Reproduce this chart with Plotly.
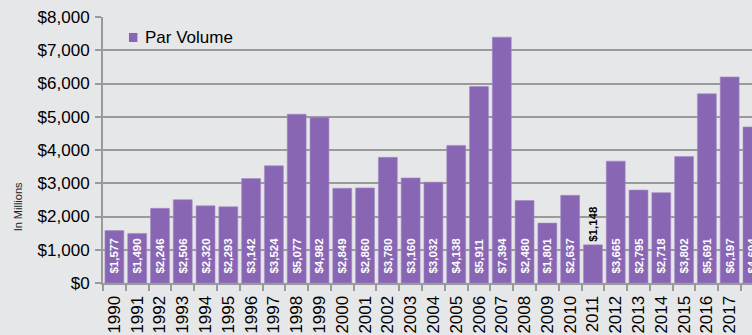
import plotly.graph_objects as go

years = [str(y) for y in range(1990, 2019)]
par_volume = [1577, 1490, 2246, 2506, 2320, 2293, 3142, 3524, 5077, 4982,
              2849, 2860, 3780, 3160, 3032, 4138, 5911, 7394, 2480, 1801,
              2637, 1148, 3665, 2795, 2718, 3802, 5691, 6197, 4694]
y_ticks = [0, 1000, 2000, 3000, 4000, 5000, 6000, 7000, 8000]
y_tick_labels = ["${:,}".format(v) for v in y_ticks]

positions = ["outside" if v < 1300 else "inside" for v in par_volume]
labels = [("${:,}".format(v) if p == "outside" else "\u00a0\u00a0${:,}".format(v))
          for v, p in zip(par_volume, positions)]

BG = "#E6E7E9"
PURPLE = "#8866B4"
GRID = "#9A9A9A"

fig = go.Figure()
fig.add_trace(go.Bar(
    x=years, y=par_volume, name="Par Volume",
    marker=dict(color=PURPLE, line=dict(color="#A48BC6", width=0.6)),
    text=labels, textposition=positions, textangle=-90,
    insidetextanchor="start", constraintext="none",
    insidetextfont=dict(color="white", size=11.5, family="Liberation Sans", weight="bold"),
    outsidetextfont=dict(color="black", size=11.5, family="Liberation Sans", weight="bold"),
    cliponaxis=True, showlegend=False,
))

fig.update_layout(
    width=752, height=335,
    margin=dict(l=103, r=0, t=17, b=52, autoexpand=False),
    paper_bgcolor=BG, plot_bgcolor=BG,
    bargap=0.17,
    font=dict(family="Liberation Sans", color="black"),
    showlegend=False,
    xaxis=dict(type="category", range=[-0.5, 27.98], tickson="boundaries",
               ticks="outside", ticklen=6, tickcolor=GRID, tickwidth=1.5,
               showline=True, linecolor=GRID, linewidth=2,
               tickangle=-90, tickfont=dict(size=17), showgrid=False,
               ticklabelstandoff=4,
               automargin=False, fixedrange=True),
    yaxis=dict(range=[0, 8000], tickvals=y_ticks, ticktext=y_tick_labels,
               ticks="outside", ticklen=6, tickcolor=GRID, tickwidth=2,
               showline=True, linecolor=GRID, linewidth=2,
               showgrid=True, gridcolor=GRID, gridwidth=2,
               ticklabelstandoff=2,
               tickfont=dict(size=17), automargin=False, zeroline=False),
    shapes=[dict(type="rect", xref="paper", yref="paper",
                 x0=0.04, x1=0.053, y0=0.906, y1=0.94,
                 fillcolor=PURPLE, line=dict(width=0))],
    annotations=[
        dict(text="Par Volume", xref="paper", yref="paper",
             x=0.0616, y=0.923, xanchor="left", yanchor="middle",
             showarrow=False, font=dict(size=17, color="black")),
        dict(text="In Millions", xref="paper", yref="paper",
             x=-0.131, y=0.288, xanchor="center", yanchor="middle",
             textangle=-90, showarrow=False,
             font=dict(size=11, color="#222")),
    ],
)

fig.write_html("out.html")
